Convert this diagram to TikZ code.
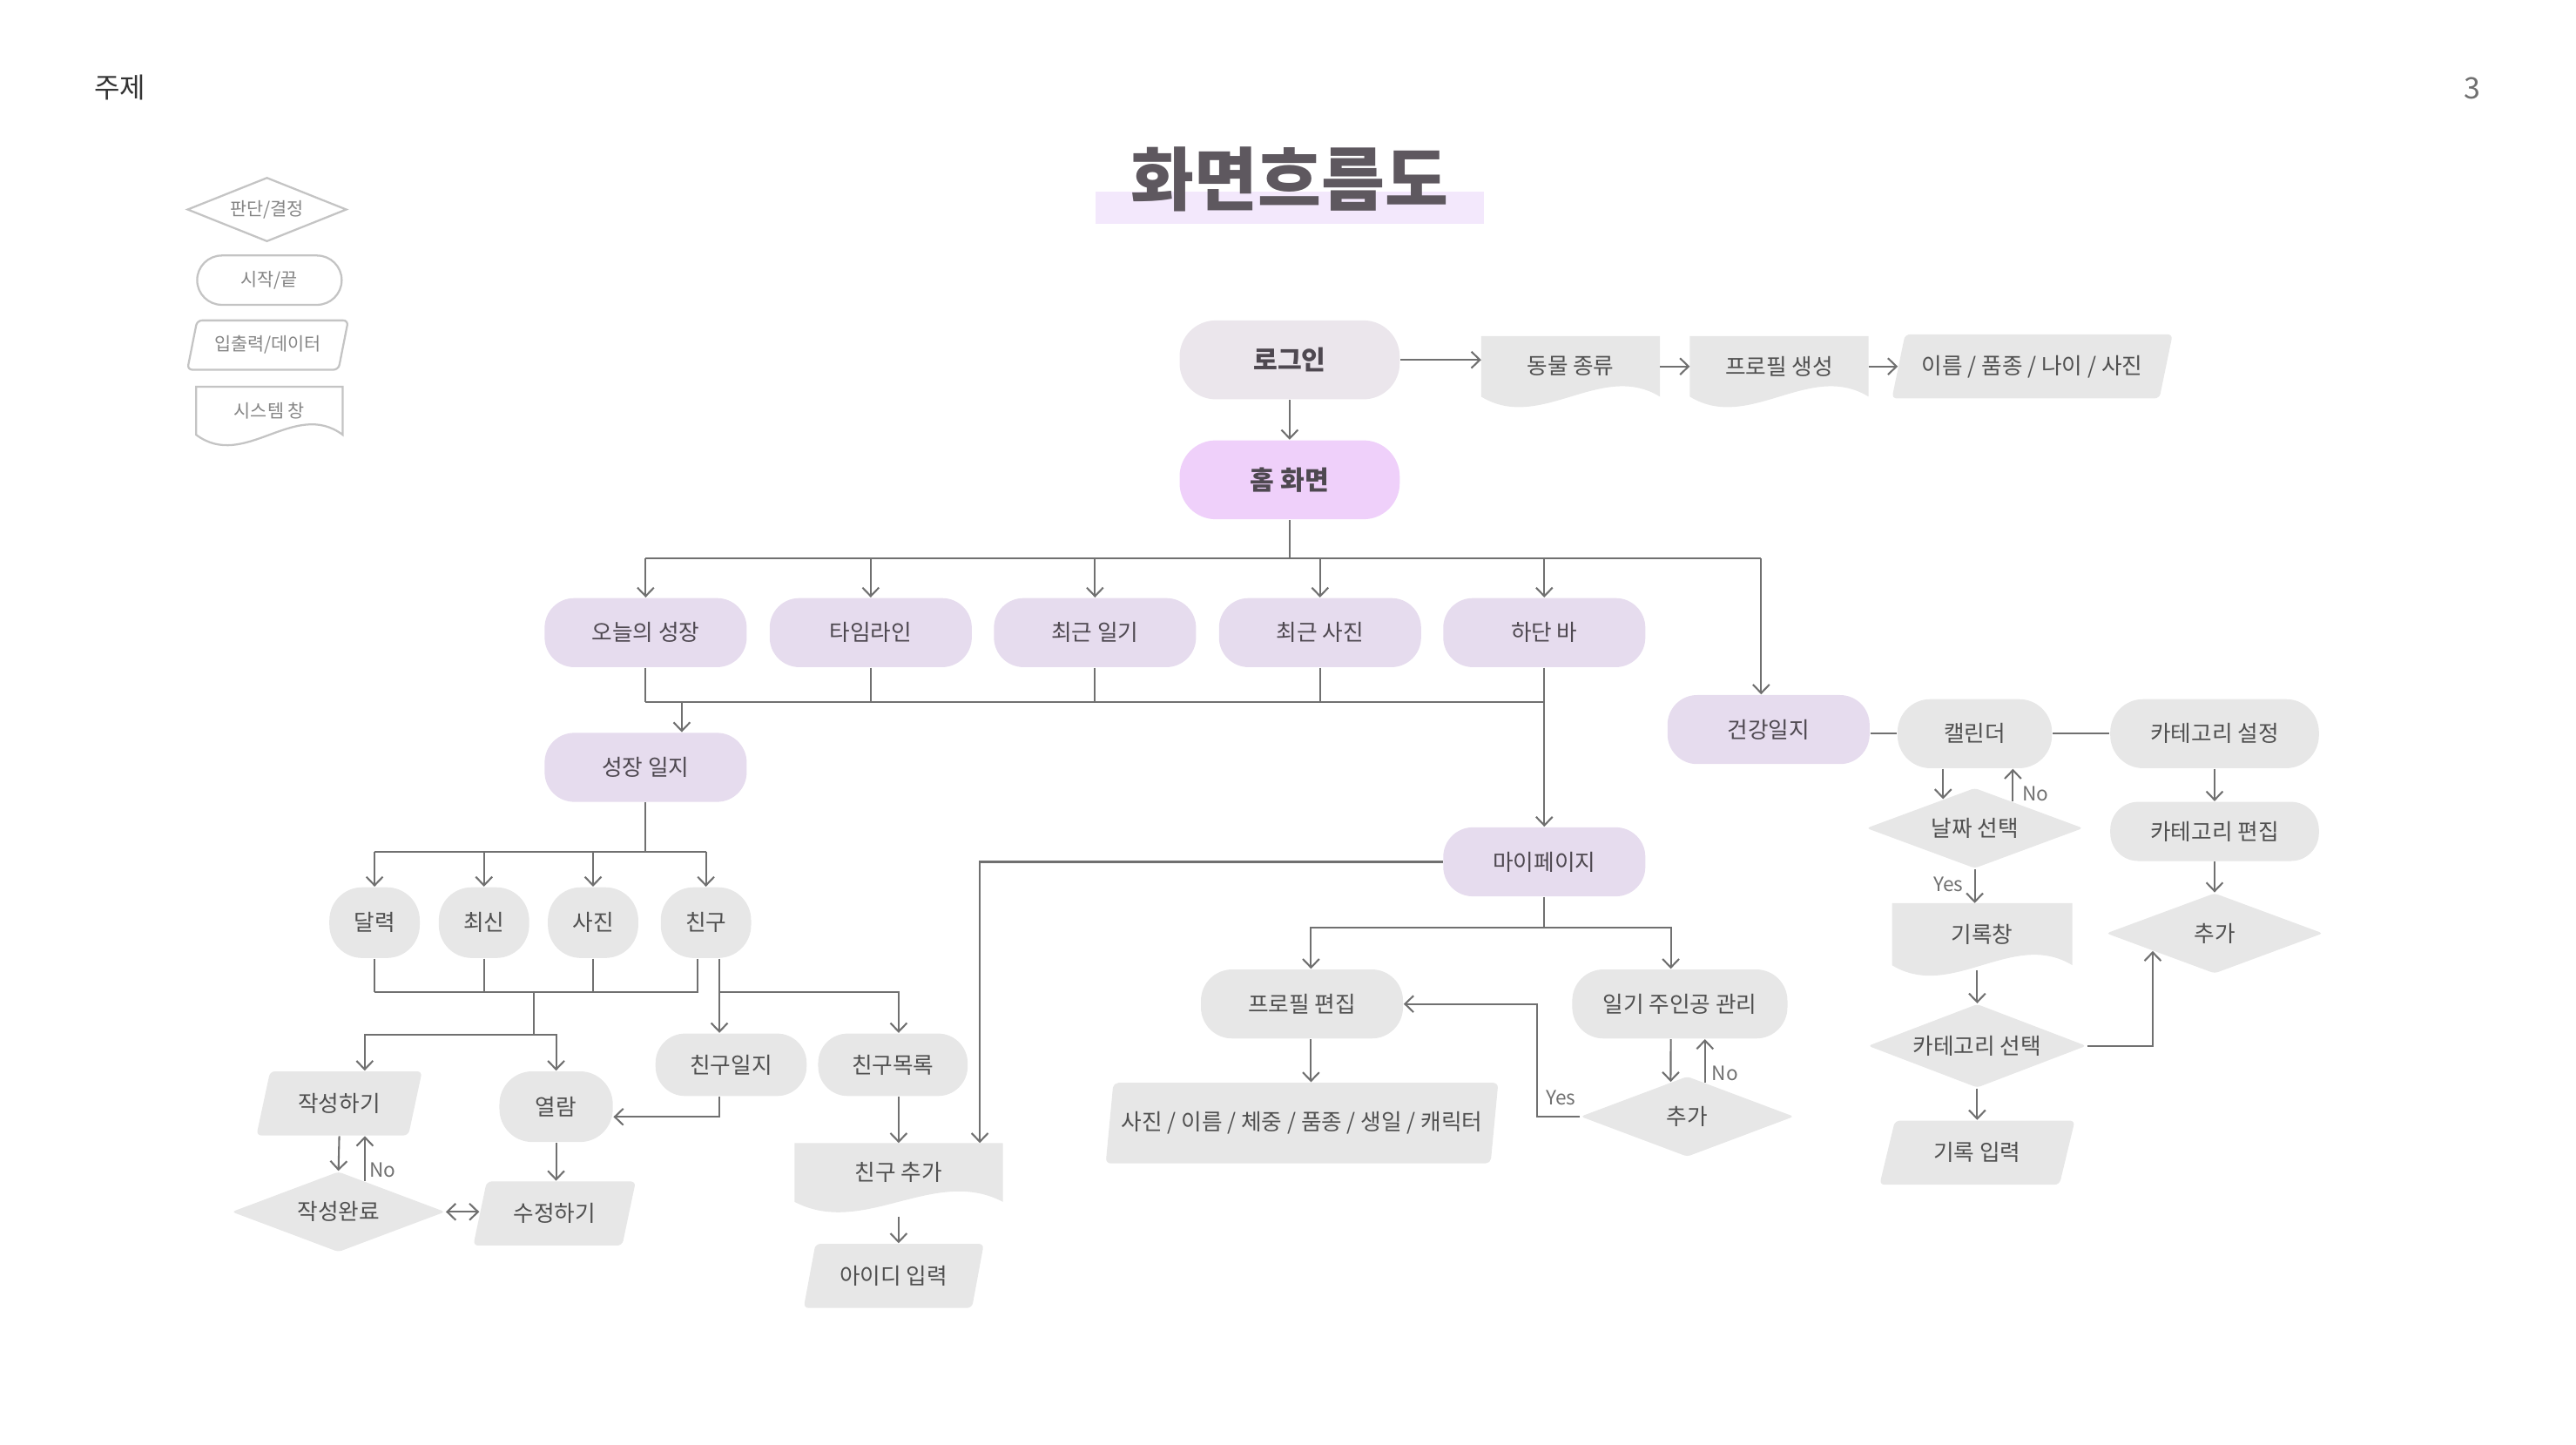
\documentclass[tikz,border=0pt]{standalone}
\usepackage{fontspec}
\setmainfont{Noto Sans CJK KR}
\usetikzlibrary{shapes.geometric,arrows.meta,calc,backgrounds}

\definecolor{linec}{HTML}{707070}
\definecolor{lavc}{HTML}{E6DCEE}
\definecolor{homec}{HTML}{EFD0FA}
\definecolor{loginc}{HTML}{EBE6EC}
\definecolor{greyc}{HTML}{E7E7E7}
\definecolor{txtc}{HTML}{4E4850}
\definecolor{txtg}{HTML}{505050}
\definecolor{legc}{HTML}{C4C4C4}
\definecolor{legtxt}{HTML}{858585}
\definecolor{titlec}{HTML}{5E585F}
\definecolor{markc}{HTML}{F3E8FC}

\newcommand{\nodefont}{\fontsize{6.8}{8}\selectfont}
\newcommand{\legfont}{\fontsize{5.5}{6.5}\selectfont}
% wavy bottom for the document shapes
\newcommand{\docfill}[2][fill=greyc]{%
  \fill[#1] (#2.south west) -- (#2.north west) -- (#2.north east) -- (#2.south east)
    .. controls ($(#2.south east)!0.33!(#2.south west)+(0,-22)$) and ($(#2.south east)!0.67!(#2.south west)+(0,22)$) .. (#2.south west) -- cycle;}

\tikzset{
  flow/.style={draw=linec, line width=0.55pt},
  arr/.style={flow, -{Straight Barb[length=2.6pt,width=5pt]}},
  darr/.style={flow, {Straight Barb[length=2.6pt,width=5pt]}-{Straight Barb[length=2.6pt,width=5pt]}},
  base/.style={inner sep=0pt, font=\nodefont, text=txtg},
  lav/.style={base, fill=lavc, text=txtc, rounded corners=9pt, minimum width=61.5pt, minimum height=21pt},
  pill/.style={base, fill=greyc, rounded corners=9.5pt, minimum width=61.5pt, minimum height=21pt},
  blob/.style={base, fill=greyc, rounded corners=10pt, minimum width=27.5pt, minimum height=21.5pt},
  dia/.style={base, diamond, aspect=2.6, fill=greyc, rounded corners=1pt, minimum width=65pt, minimum height=24.5pt},
  io/.style={base, trapezium, trapezium left angle=68, trapezium right angle=112, trapezium stretches=true,
    fill=greyc, rounded corners=1.5pt, minimum width=50pt, minimum height=19.5pt},
  doc/.style={base, rectangle, minimum width=54pt, minimum height=18pt},
  legend/.style={inner sep=0pt, draw=legc, fill=white, line width=0.6pt, text=legtxt, font=\legfont},
  yn/.style={inner sep=0pt, text=linec, font=\fontsize{6}{7}\selectfont},
}

\begin{document}
\begin{tikzpicture}[x=0.5pt,y=-0.5pt]
\useasboundingbox (0,0) rectangle (1568,879);

% header
\node[text=black!80, font=\fontsize{8.5}{10}\selectfont] (topic) at (73,53) {주제};
\node[text=linec, font=\fontsize{9}{10}\selectfont] (pagenum) at (1505,54) {3};
\fill[markc] (667,116.5) rectangle (903,136);
\node[text=titlec, font=\fontsize{21}{24}\selectfont\bfseries] (title) at (785,109) {화면흐름도};

% legend
\node[legend, diamond, aspect=2.5, minimum width=48.5pt, minimum height=19.5pt] (legdec) at (162.5,127.5) {판단/결정};
\node[legend, rounded corners=7.5pt, minimum width=44pt, minimum height=15pt] (legterm) at (164,170.5) {시작/끝};
\node[io, legend, minimum width=49pt, minimum height=15pt] (legio) at (163,210) {입출력/데이터};
\node[legend, draw=none, fill=none, minimum width=44pt, minimum height=14pt] (legdoc) at (164,250) {시스템 창};

% login row
\node[lav, fill=loginc, rounded corners=11pt, minimum width=67pt, minimum height=24pt,
  font=\fontsize{8}{9}\selectfont\bfseries] (login) at (785,219) {로그인};
\node[lav, fill=homec, rounded corners=11pt, minimum width=67pt, minimum height=24pt,
  font=\fontsize{8}{9}\selectfont\bfseries] (home) at (785,292) {홈 화면};
\node[doc] (animal) at (956,223) {동물 종류};
\node[doc] (profile) at (1083,223) {프로필 생성};
\node[io, trapezium left angle=63, trapezium right angle=117, minimum width=86pt] (info) at (1237,223) {이름 / 품종 / 나이 / 사진};

% home menu
\node[lav] (today) at (393,385) {오늘의 성장};
\node[lav] (timeline) at (530,385) {타임라인};
\node[lav] (recdiary) at (666.5,385) {최근 일기};
\node[lav] (recphoto) at (803.5,385) {최근 사진};
\node[lav] (bottombar) at (940,385) {하단 바};
\node[lav] (growth) at (393,467) {성장 일지};
\node[lav] (health) at (1076.5,444) {건강일지};
\node[lav] (mypage) at (940,524.5) {마이페이지};

% health diary
\node[pill, minimum width=47pt, rounded corners=10pt] (calendar) at (1202,446.5) {캘린더};
\node[pill, minimum width=63.5pt, rounded corners=10pt] (catset) at (1348,446.5) {카테고리 설정};
\node[pill, minimum width=63.5pt, minimum height=18pt, rounded corners=8.5pt] (catedit) at (1348,506) {카테고리 편집};
\node[dia, minimum width=66pt] (datesel) at (1202,504) {날짜 선택};
\node[doc, minimum width=54.5pt, minimum height=18.5pt] (recwin) at (1206.5,568.5) {기록창};
\node[dia, minimum width=66.5pt, minimum height=25.5pt] (catsel) at (1203.5,636.5) {카테고리 선택};
\node[io, minimum width=59.5pt] (recin) at (1203.5,701.5) {기록 입력};
\node[dia, minimum width=66pt] (addR) at (1348,568) {추가};

% growth diary
\node[blob] (cal) at (228,561.5) {달력};
\node[blob] (latest) at (294.6,561.5) {최신};
\node[blob] (photo) at (361,561.5) {사진};
\node[blob] (friend) at (429.7,561.5) {친구};
\node[io, minimum width=50.5pt] (write) at (206.5,671.5) {작성하기};
\node[blob, minimum width=34.5pt] (browse) at (338.5,673.5) {열람};
\node[dia] (complete) at (206,737.5) {작성완료};
\node[io, minimum width=49.5pt] (modify) at (337.5,738.5) {수정하기};
\node[pill, minimum width=46pt, minimum height=19pt, rounded corners=9pt] (fjournal) at (445,648) {친구일지};
\node[pill, minimum width=45.5pt, minimum height=19pt, rounded corners=9pt] (flist) at (543.5,648) {친구목록};
\node[doc, minimum width=63pt, minimum height=17.5pt] (fadd) at (547,713.5) {친구 추가};
\node[io, minimum width=55pt] (idin) at (544,776.5) {아이디 입력};

% my page
\node[pill] (pedit) at (792.5,611) {프로필 편집};
\node[pill, minimum width=65.5pt] (owner) at (1022.5,611) {일기 주인공 관리};
\node[io, trapezium left angle=72, trapezium right angle=108, minimum width=119.5pt, minimum height=24.5pt] (pinfo) at (792.5,683.5) {사진 / 이름 / 체중 / 품종 / 생일 / 캐릭터};
\node[dia] (addM) at (1027,679.5) {추가};

% yes / no
\node[yn] (no1) at (1239,483) {No};
\node[yn] (yes1) at (1186,538) {Yes};
\node[yn] (no2) at (233,712) {No};
\node[yn] (no3) at (1050,653) {No};
\node[yn] (yes2) at (950,668) {Yes};

\begin{scope}[on background layer]
  \docfill[draw=legc, fill=white, line width=0.6pt]{legdoc}
  \docfill{animal}
  \docfill{profile}
  \docfill{recwin}
  \docfill{fadd}
\end{scope}

\coordinate (hb) at (785,340);
\coordinate (hbR) at (1072,340);
\coordinate (lb) at (393,427.4);
\coordinate (gb) at (395,518.4);
\coordinate (gb2) at (324.7,603.6);
\coordinate (wb) at (324.7,629.5);
\coordinate (mb) at (938,564.5);
\coordinate (yesc) at (935.7,679.5);
\coordinate (dsL) at ($(datesel.north)!0.29!(datesel.west)$);
\coordinate (dsR) at ($(datesel.north)!0.35!(datesel.east)$);
\coordinate (addRin) at ($(addR.west)!0.433!(addR.south)$);
\coordinate (cpR) at ($(complete.north)!0.246!(complete.east)$);
\coordinate (amL) at ($(addM.north)!0.154!(addM.west)$);
\coordinate (amR) at ($(addM.north)!0.165!(addM.east)$);

% login
\draw[arr] (login) -- (home);
\draw[arr] (login.east) -- (login.east -| animal.west);
\draw[arr] (animal.east) -- (profile.west);
\draw[arr] (profile.east) -- (profile.east -| info.west);

% home
\draw[flow] (home.south) -- (hb);
\draw[flow] (today.north |- hb) -- (hbR);
\foreach \n in {today,timeline,recdiary,recphoto,bottombar}
  \draw[arr] (\n.north |- hb) -- (\n.north);
\draw[arr] (hbR) -- (hbR |- health.north);
\foreach \n in {today,timeline,recdiary,recphoto}
  \draw[flow] (\n.south) -- (\n.south |- lb);
\draw[flow] (lb) -- (bottombar.south |- lb);
\draw[arr] (bottombar.south) -- (mypage.north);
\draw[arr] ([xshift=11pt]today.south |- lb) -- ([xshift=11pt]growth.north);

% health diary
\draw[flow] (calendar.west -| health.east) -- (calendar.west);
\draw[flow] (calendar.east) -- (catset.west);
\draw[arr] (calendar.south -| dsL) -- (dsL);
\draw[arr] (dsR) -- (dsR |- calendar.south);
\draw[arr] (datesel.south) -- (datesel.south |- recwin.north);
\draw[arr] ([yshift=-1.5pt]recwin.south -| catsel.north) -- (catsel.north);
\draw[arr] (catsel.south) -- (catsel.south |- recin.north);
\draw[arr] (catsel.east) -| (addRin);
\draw[arr] (catset) -- (catedit);
\draw[arr] (catedit) -- (addR);

% growth diary
\draw[flow] (growth.south) -- (growth.south |- gb);
\draw[flow] (cal.north |- gb) -- (friend.north |- gb);
\foreach \n in {cal,latest,photo,friend}
  \draw[arr] (\n.north |- gb) -- (\n.north);
\foreach \n in {cal,latest,photo}
  \draw[flow] (\n.south) -- (\n.south |- gb2);
\draw[flow] ([xshift=-2.65pt]friend.south) -- ([xshift=-2.65pt]friend.south |- gb2) -- (cal.south |- gb2);
\draw[flow] (gb2) -- (wb);
\draw[arr] (wb) -| ([xshift=7.75pt]write.north);
\draw[arr] (wb) -| (browse.north);
\draw[arr] ([xshift=4.1pt]friend.south) -- ([xshift=4.1pt]friend.south |- fjournal.north);
\draw[arr] ([xshift=4.1pt]friend.south |- gb2) -| (fadd.north |- flist.north);
\draw[arr] ([xshift=-3.55pt]fjournal.south) |- ([yshift=-3.1pt]browse.east);
\draw[arr] (write.south) -- (complete.north);
\draw[arr] (cpR) -- (cpR |- write.south);
\draw[darr] (complete.east) -- (complete.east -| modify.west);
\draw[arr] (browse.south) -- (browse.south |- modify.north);
\draw[arr] (fadd.north |- flist.south) -- (fadd.north);
\draw[arr] ([yshift=-4.5pt]fadd.south) -- (fadd.south |- idin.north);
\draw[arr] (mypage.west) -| ([xshift=-7pt]fadd.north east);

% my page
\draw[flow] (mypage.south) -- (mypage.south |- mb);
\draw[arr] (mypage.south |- mb) -| ([xshift=2.75pt]pedit.north);
\draw[arr] (mypage.south |- mb) -| ([xshift=-2.75pt]owner.north);
\draw[arr] ([xshift=2.75pt]pedit.south) -- ([xshift=2.75pt]pedit.south |- pinfo.north);
\draw[arr] ([xshift=-2.75pt]owner.south) -- (amL);
\draw[arr] (amR) -- (amR |- owner.south);
\draw[arr] (addM.west) -- (yesc) |- (pedit.east);
\end{tikzpicture}
\end{document}
